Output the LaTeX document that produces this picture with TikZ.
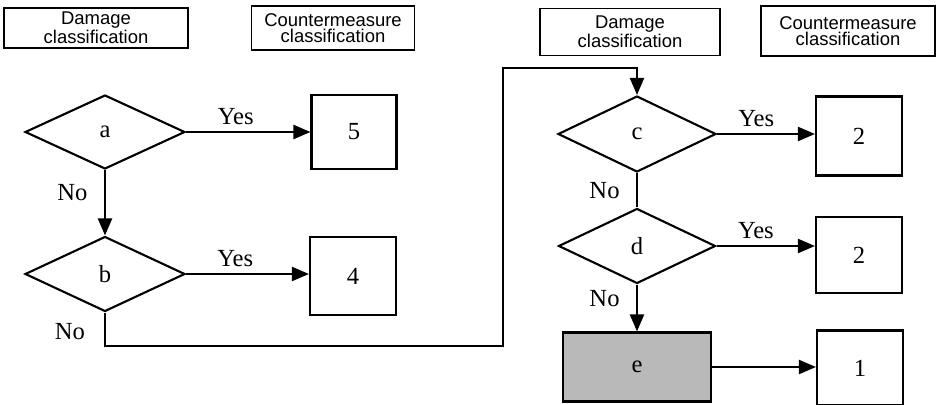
\documentclass[tikz,border=0pt]{standalone}
\usepackage{fontspec}
\setmainfont{Liberation Serif}
\newfontfamily\headfont{Liberation Sans}
\usetikzlibrary{shapes.geometric,arrows.meta}

\tikzset{
  head/.style={draw,line width=0.8pt,align=center,inner sep=0pt,
    font=\headfont\fontsize{10.5}{9}\selectfont},
  decision/.style={draw,diamond,line width=1.2pt,inner sep=0pt,aspect=2.1,
    font=\fontsize{14}{16}\selectfont},
  result/.style={draw,line width=1.2pt,inner sep=0pt,
    font=\fontsize{14}{16}\selectfont},
  flow/.style={line width=1.2pt,-{Triangle[length=3.4mm,width=2.8mm]}},
  tag/.style={font=\fontsize{14}{16}\selectfont}
}

\begin{document}
\begin{tikzpicture}[x=0.02cm,y=-0.02cm]
  \useasboundingbox (0,0) rectangle (936,405);

  % column headings
  \node[head,minimum width=3.68cm,minimum height=0.8cm] (h1) at (96,28) {Damage\\classification};
  \node[head,minimum width=3.26cm,minimum height=0.88cm] (h2) at (333,28) {Countermeasure\\classification};
  \node[head,minimum width=3.6cm,minimum height=0.94cm] (h3) at (630,32) {Damage\\classification};
  \node[head,minimum width=3.48cm,minimum height=1cm] (h4) at (848,31) {Countermeasure\\classification};

  % left chart
  \node[decision,minimum width=3.2cm,minimum height=1.48cm] (a) at (105,132) {a};
  \node[decision,minimum width=3.2cm,minimum height=1.5cm] (b) at (105,274) {b};
  \node[result,minimum width=1.7cm,minimum height=1.48cm] (r5) at (354,132) {5};
  \node[result,minimum width=1.72cm,minimum height=1.56cm] (r4) at (353,276) {4};

  \draw[flow] (a.east) -- node[tag,above,pos=0.4] {Yes} (a.east -| r5.west);
  \draw[flow] (b.east) -- node[tag,above,pos=0.4] {Yes} (b.east -| r4.west);
  \draw[flow] (a.south) -- node[tag,left,pos=0.35,xshift=-6pt] {No} (b.north);

  % right chart
  \node[decision,minimum width=3.16cm,minimum height=1.52cm] (c) at (637,134) {c};
  \node[decision,minimum width=3.14cm,minimum height=1.5cm] (d) at (637,246) {d};
  \node[result,fill=gray!55,minimum width=2.96cm,minimum height=1.38cm] (e) at (637,367) {e};
  \node[result,minimum width=1.72cm,minimum height=1.58cm] (r2a) at (859,136) {2};
  \node[result,minimum width=1.72cm,minimum height=1.52cm] (r2b) at (859,255) {2};
  \node[result,minimum width=1.72cm,minimum height=1.5cm] (r1) at (860,368) {1};

  \draw[flow] (c.east) -- node[tag,above,pos=0.4] {Yes} (c.east -| r2a.west);
  \draw[flow] (d.east) -- node[tag,above,pos=0.4] {Yes} (d.east -| r2b.west);
  \draw[line width=1.2pt] (c.south) -- node[tag,left,xshift=-6pt] {No} (d.north);
  \draw[flow] (d.south) -- node[tag,left,pos=0.3,xshift=-6pt] {No} (e.north);
  \draw[flow] (e.east) -- (e.east -| r1.west);

  % b "No" runs over to the second chart
  \coordinate (b1) at (105,346);
  \coordinate (b2) at (503,346);
  \coordinate (b3) at (503,68);
  \coordinate (b4) at (637,68);
  \node[tag] at (70,332) {No};
  \draw[flow] (b.south) -- (b1) -- (b2) -- (b3) -- (b4) -- (c.north);
\end{tikzpicture}
\end{document}
